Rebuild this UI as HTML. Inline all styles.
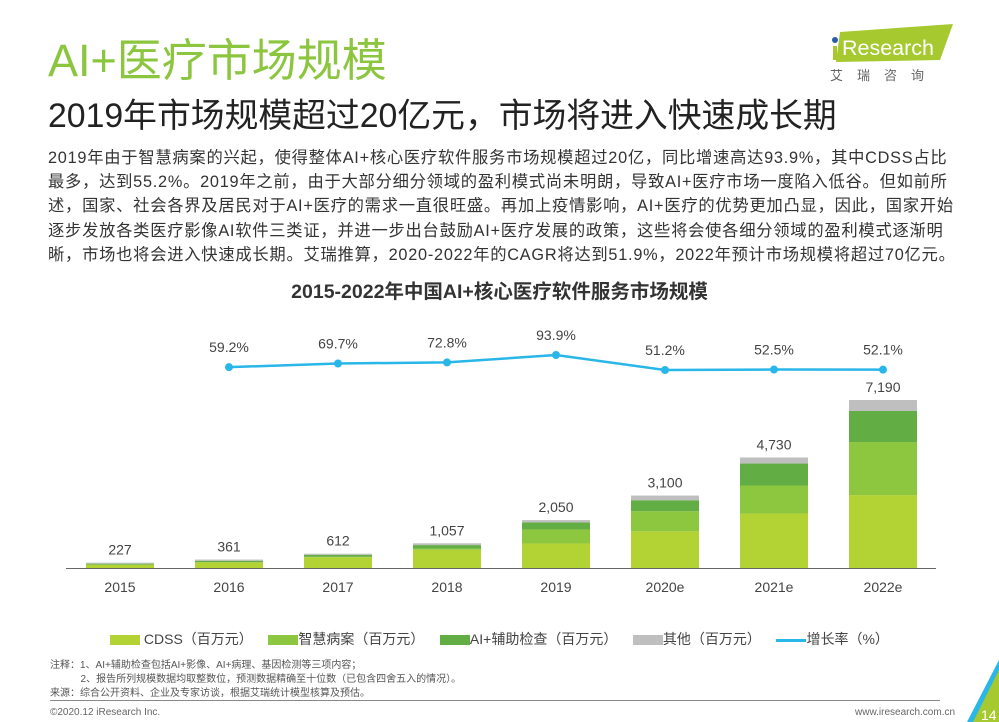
<!DOCTYPE html>
<html><head><meta charset="utf-8"><style>
body{margin:0;width:999px;height:722px;overflow:hidden;background:#fff;font-family:"Liberation Sans","Noto Sans CJK SC",sans-serif;position:relative}
.a{position:absolute;white-space:nowrap}
</style></head><body>
<div class="a" style="left:48px;top:24px;font-size:45px;color:#8cc63f;">AI+医疗市场规模</div>
<div class="a" style="left:48px;top:88px;font-size:33.8px;color:#222;">2019年市场规模超过20亿元，市场将进入快速成长期</div>
<div class="a" style="left:828px;top:22px;width:125px;height:60px">
<svg width="125" height="60"><polygon points="12,10 125,2 112,38 8,40" fill="#a6c92f"/><circle cx="7" cy="18" r="3" fill="#2a5da8"/><rect x="5" y="24" width="4" height="14" fill="#a6c92f"/>
<text x="14" y="33" font-size="21" fill="#fff" font-family="Liberation Sans" textLength="92" lengthAdjust="spacingAndGlyphs">Research</text>
<text x="2" y="58" font-size="13" fill="#666" letter-spacing="14" font-family="Noto Sans CJK SC">艾瑞咨询</text></svg></div>
<div class="a" style="left:48px;top:146px;width:915px;white-space:normal;font-size:16.3px;letter-spacing:0.75px;line-height:24.2px;color:#333;">2019年由于智慧病案的兴起，使得整体AI+核心医疗软件服务市场规模超过20亿，同比增速高达93.9%，其中CDSS占比最多，达到55.2%。2019年之前，由于大部分细分领域的盈利模式尚未明朗，导致AI+医疗市场一度陷入低谷。但如前所述，国家、社会各界及居民对于AI+医疗的需求一直很旺盛。再加上疫情影响，AI+医疗的优势更加凸显，因此，国家开始逐步发放各类医疗影像AI软件三类证，并进一步出台鼓励AI+医疗发展的政策，这些将会使各细分领域的盈利模式逐渐明晰，市场也将会进入快速成长期。艾瑞推算，2020-2022年的CAGR将达到51.9%，2022年预计市场规模将超过70亿元。</div>
<div class="a" style="left:0;width:999px;text-align:center;top:275px;font-size:19.5px;font-weight:bold;color:#333;">2015-2022年中国AI+核心医疗软件服务市场规模</div>
<svg id="chart" class="a" style="left:0;top:0" width="999" height="722"></svg>
<div class="a" style="left:110px;top:629px;font-size:14px;color:#444;">
<span><span style="display:inline-block;width:30px;height:10px;background:#b3d234;vertical-align:middle"></span> CDSS（百万元）</span>&nbsp;&nbsp;&nbsp;
<span><span style="display:inline-block;width:30px;height:10px;background:#8dc63f;vertical-align:middle"></span>智慧病案（百万元）</span>&nbsp;&nbsp;&nbsp;
<span><span style="display:inline-block;width:30px;height:10px;background:#62ad44;vertical-align:middle"></span>AI+辅助检查（百万元）</span>&nbsp;&nbsp;&nbsp;
<span><span style="display:inline-block;width:30px;height:10px;background:#bfbfbf;vertical-align:middle"></span>其他（百万元）</span>&nbsp;&nbsp;&nbsp;
<span><span style="display:inline-block;width:30px;height:3px;background:#29b6e8;vertical-align:middle"></span>增长率（%）</span></div>
<div class="a" style="left:50px;top:659px;font-size:10px;line-height:14px;color:#555;">注释：1、AI+辅助检查包括AI+影像、AI+病理、基因检测等三项内容；<br>&nbsp;&nbsp;&nbsp;&nbsp;&nbsp;&nbsp;&nbsp;&nbsp;&nbsp;&nbsp;&nbsp;2、报告所列规模数据均取整数位，预测数据精确至十位数（已包含四舍五入的情况）。<br>来源：综合公开资料、企业及专家访谈，根据艾瑞统计模型核算及预估。</div>
<div class="a" style="left:50px;top:700px;width:890px;height:1px;background:#888"></div>
<div class="a" style="left:50px;top:707px;font-size:10px;color:#666;">©2020.12 iResearch Inc.</div>
<div class="a" style="left:855px;top:707px;font-size:10px;color:#666;">www.iresearch.com.cn</div>
<svg class="a" style="left:955px;top:660px" width="44" height="62"><polygon points="44,0 44,62 12,62" fill="#29b6e8"/><polygon points="44,10 44,62 18,62" fill="#a6c92f"/><text x="26" y="60" font-size="14" fill="#fff">14</text></svg>
<script>
const categories=["2015","2016","2017","2018","2019","2020e","2021e","2022e"];
const cdss=[140,240,460,780,1050,1570,2330,3120];
const smartRecord=[5,10,20,50,600,860,1200,2270];
const aiExam=[40,60,80,150,300,470,940,1330];
const other=[42,51,52,77,100,200,260,470];
const totals=[227,361,612,1057,2050,3100,4730,7190];
const growthCats=["2016","2017","2018","2019","2020e","2021e","2022e"];
const growth=[59.2,69.7,72.8,93.9,51.2,52.5,52.1];
const NS="http://www.w3.org/2000/svg",svg=document.getElementById('chart');
const base=568,x0=120,step=109,bw=68;
const xs=i=>x0+i*step, ys=v=>v*168/7190, yg=g=>355+(93.9-g)*0.351;
function mk(t,a){const e=document.createElementNS(NS,t);for(const k in a)e.setAttribute(k,a[k]);svg.appendChild(e);return e;}
const ax=mk('line',{x1:66,x2:936,y1:base+0.5,y2:base+0.5,stroke:'#666','stroke-width':1});


const series=[[cdss,'#b3d234','cdss'],[smartRecord,'#8dc63f','smart-record'],[aiExam,'#62ad44','ai-exam'],[other,'#bfbfbf','other']];
categories.forEach((c,i)=>{
 let y=base;
 series.forEach(([arr,col,nm])=>{const h=ys(arr[i]);y-=h;
  const r=mk('rect',{x:xs(i)-bw/2,y:y,width:bw,height:h,fill:col});
  
  });
 const t=mk('text',{x:xs(i),y:y-8,'text-anchor':'middle','font-size':14,fill:'#444'});t.textContent=totals[i].toLocaleString('en-US');
 
 
 const l=mk('text',{x:xs(i),y:592,'text-anchor':'middle','font-size':14,fill:'#444'});l.textContent=c;
 
 
});
const gx=i=>xs(categories.indexOf(growthCats[i]));
let d='';growth.forEach((g,i)=>{d+=(i?'L':'M')+gx(i)+','+yg(g);});
const p=mk('path',{d:d,fill:'none',stroke:'#29b6e8','stroke-width':2.5});


growth.forEach((g,i)=>{
 const c=mk('circle',{cx:gx(i),cy:yg(g),r:4,fill:'#29b6e8'});
 
 
 const t=mk('text',{x:gx(i),y:yg(g)-15,'text-anchor':'middle','font-size':14,fill:'#444'});t.textContent=g.toFixed(1)+'%';
 
 
});
</script>
</body></html>
